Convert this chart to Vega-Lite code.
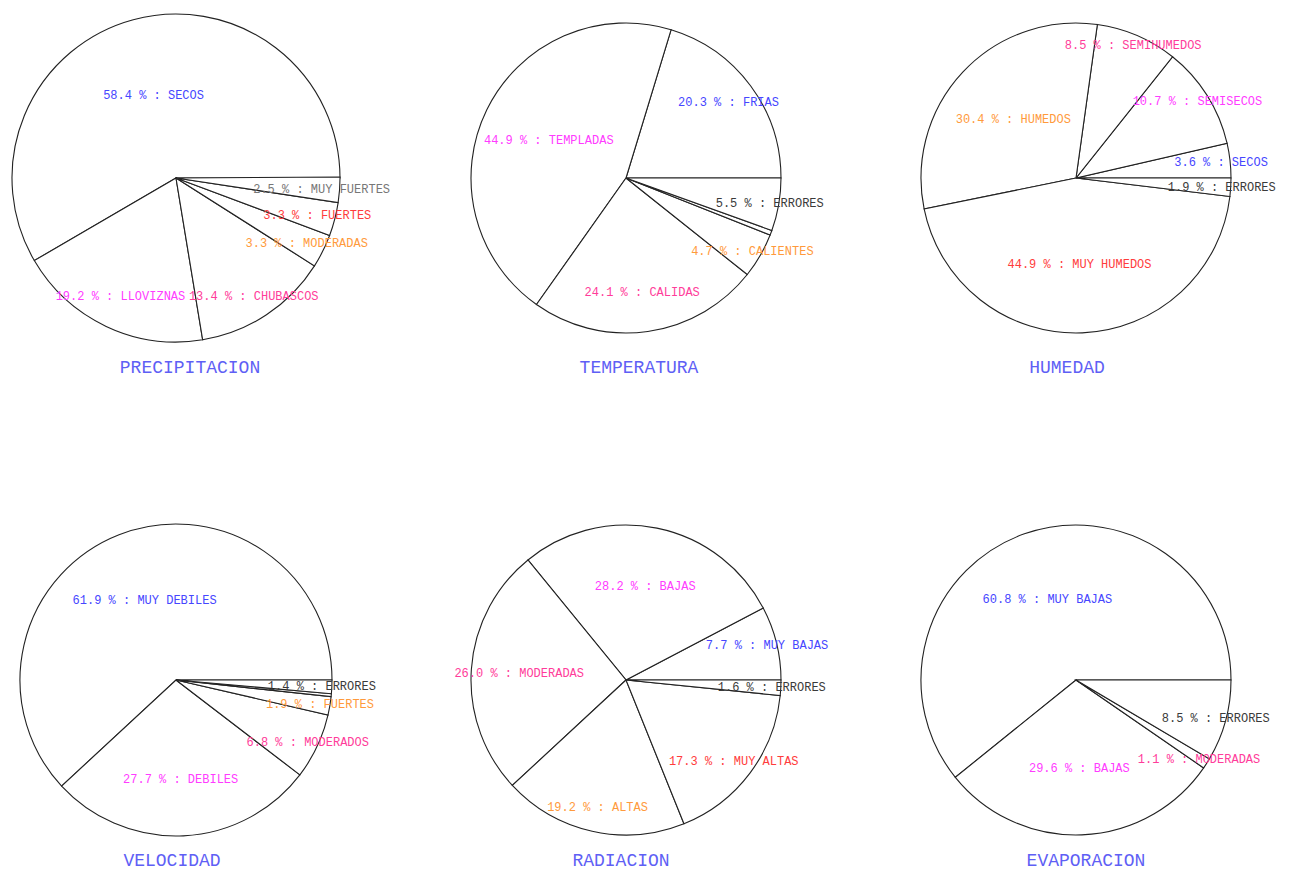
{
  "$schema": "https://vega.github.io/schema/vega-lite/v6.json",
  "background": "white",
  "padding": {"left": 9, "top": 8, "right": 0, "bottom": 0},
  "autosize": {"type": "pad"},
  "config": {
    "view": {"stroke": null},
    "title": {"orient": "bottom", "frame": "group", "anchor": "middle", "font": "Liberation Mono", "fontSize": 18, "fontWeight": "normal", "color": "#5f5ff5"}
  },
  "datasets": {
    "pies": [
      {"variable": "PRECIPITACION", "orden": 1, "categoria": "SECOS", "pct": 58.4, "grupo": "1", "etiqueta": "58.4 % : SECOS"},
      {"variable": "PRECIPITACION", "orden": 2, "categoria": "LLOVIZNAS", "pct": 19.2, "grupo": "2", "etiqueta": "19.2 % : LLOVIZNAS"},
      {"variable": "PRECIPITACION", "orden": 3, "categoria": "CHUBASCOS", "pct": 13.4, "grupo": "3", "etiqueta": "13.4 % : CHUBASCOS"},
      {"variable": "PRECIPITACION", "orden": 4, "categoria": "MODERADAS", "pct": 3.3, "grupo": "4", "etiqueta": "3.3 % : MODERADAS"},
      {"variable": "PRECIPITACION", "orden": 5, "categoria": "FUERTES", "pct": 3.3, "grupo": "5", "etiqueta": "3.3 % : FUERTES"},
      {"variable": "PRECIPITACION", "orden": 6, "categoria": "MUY FUERTES", "pct": 2.5, "grupo": "6", "etiqueta": "2.5 % : MUY FUERTES"},
      {"variable": "TEMPERATURA", "orden": 1, "categoria": "FRIAS", "pct": 20.3, "grupo": "1", "etiqueta": "20.3 % : FRIAS"},
      {"variable": "TEMPERATURA", "orden": 2, "categoria": "TEMPLADAS", "pct": 44.9, "grupo": "2", "etiqueta": "44.9 % : TEMPLADAS"},
      {"variable": "TEMPERATURA", "orden": 3, "categoria": "CALIDAS", "pct": 24.1, "grupo": "3", "etiqueta": "24.1 % : CALIDAS"},
      {"variable": "TEMPERATURA", "orden": 4, "categoria": "CALIENTES", "pct": 4.7, "grupo": "4", "etiqueta": "4.7 % : CALIENTES"},
      {"variable": "TEMPERATURA", "orden": 5, "categoria": "", "pct": 0.5, "grupo": "E", "etiqueta": ""},
      {"variable": "TEMPERATURA", "orden": 6, "categoria": "ERRORES", "pct": 5.5, "grupo": "E", "etiqueta": "5.5 % : ERRORES"},
      {"variable": "HUMEDAD", "orden": 1, "categoria": "SECOS", "pct": 3.6, "grupo": "1", "etiqueta": "3.6 % : SECOS"},
      {"variable": "HUMEDAD", "orden": 2, "categoria": "SEMISECOS", "pct": 10.7, "grupo": "2", "etiqueta": "10.7 % : SEMISECOS"},
      {"variable": "HUMEDAD", "orden": 3, "categoria": "SEMIHUMEDOS", "pct": 8.5, "grupo": "3", "etiqueta": "8.5 % : SEMIHUMEDOS"},
      {"variable": "HUMEDAD", "orden": 4, "categoria": "HUMEDOS", "pct": 30.4, "grupo": "4", "etiqueta": "30.4 % : HUMEDOS"},
      {"variable": "HUMEDAD", "orden": 5, "categoria": "MUY HUMEDOS", "pct": 44.9, "grupo": "5", "etiqueta": "44.9 % : MUY HUMEDOS"},
      {"variable": "HUMEDAD", "orden": 6, "categoria": "ERRORES", "pct": 1.9, "grupo": "E", "etiqueta": "1.9 % : ERRORES"},
      {"variable": "VELOCIDAD", "orden": 1, "categoria": "MUY DEBILES", "pct": 61.9, "grupo": "1", "etiqueta": "61.9 % : MUY DEBILES"},
      {"variable": "VELOCIDAD", "orden": 2, "categoria": "DEBILES", "pct": 27.7, "grupo": "2", "etiqueta": "27.7 % : DEBILES"},
      {"variable": "VELOCIDAD", "orden": 3, "categoria": "MODERADOS", "pct": 6.8, "grupo": "3", "etiqueta": "6.8 % : MODERADOS"},
      {"variable": "VELOCIDAD", "orden": 4, "categoria": "FUERTES", "pct": 1.9, "grupo": "4", "etiqueta": "1.9 % : FUERTES"},
      {"variable": "VELOCIDAD", "orden": 5, "categoria": "", "pct": 0.3, "grupo": "E", "etiqueta": ""},
      {"variable": "VELOCIDAD", "orden": 6, "categoria": "ERRORES", "pct": 1.4, "grupo": "E", "etiqueta": "1.4 % : ERRORES"},
      {"variable": "RADIACION", "orden": 1, "categoria": "MUY BAJAS", "pct": 7.7, "grupo": "1", "etiqueta": "7.7 % : MUY BAJAS"},
      {"variable": "RADIACION", "orden": 2, "categoria": "BAJAS", "pct": 28.2, "grupo": "2", "etiqueta": "28.2 % : BAJAS"},
      {"variable": "RADIACION", "orden": 3, "categoria": "MODERADAS", "pct": 26.0, "grupo": "3", "etiqueta": "26.0 % : MODERADAS"},
      {"variable": "RADIACION", "orden": 4, "categoria": "ALTAS", "pct": 19.2, "grupo": "4", "etiqueta": "19.2 % : ALTAS"},
      {"variable": "RADIACION", "orden": 5, "categoria": "MUY ALTAS", "pct": 17.3, "grupo": "5", "etiqueta": "17.3 % : MUY ALTAS"},
      {"variable": "RADIACION", "orden": 6, "categoria": "ERRORES", "pct": 1.6, "grupo": "E", "etiqueta": "1.6 % : ERRORES"},
      {"variable": "EVAPORACION", "orden": 1, "categoria": "MUY BAJAS", "pct": 60.8, "grupo": "1", "etiqueta": "60.8 % : MUY BAJAS"},
      {"variable": "EVAPORACION", "orden": 2, "categoria": "BAJAS", "pct": 29.6, "grupo": "2", "etiqueta": "29.6 % : BAJAS"},
      {"variable": "EVAPORACION", "orden": 3, "categoria": "MODERADAS", "pct": 1.1, "grupo": "3", "etiqueta": "1.1 % : MODERADAS"},
      {"variable": "EVAPORACION", "orden": 4, "categoria": "ERRORES", "pct": 8.5, "grupo": "E", "etiqueta": "8.5 % : ERRORES"}
    ]
  },
  "columns": 3,
  "spacing": {"row": 162, "column": 120},
  "bounds": "flush",
  "concat": [
    {
      "width": 330, "height": 340,
      "title": {"text": "PRECIPITACION", "offset": 11, "dx": 14},
      "data": {"name": "pies"},
      "transform": [{"filter": "datum.variable === 'PRECIPITACION'"}],
      "encoding": {
        "theta": {"field": "pct", "type": "quantitative", "stack": true, "scale": {"domain": [0, 100], "range": [1.5707963268, -4.7123889804]}},
        "order": {"field": "orden", "type": "quantitative"},
        "detail": {"field": "categoria", "type": "nominal"}
      },
      "layer": [
        {"mark": {"type": "arc", "outerRadius": 164, "fill": "white", "stroke": "#222222", "strokeWidth": 1.1}},
        {"mark": {"type": "text", "font": "Liberation Mono", "fontSize": 12},
         "encoding": {
           "text": {"field": "etiqueta", "type": "nominal"},
           "radius": {"field": "pct", "type": "quantitative", "scale": {"type": "pow", "exponent": 3, "domain": [5, 30], "range": [146, 86], "clamp": true, "zero": false}},
           "color": {"field": "grupo", "type": "nominal", "legend": null, "scale": {"domain": ["1", "2", "3", "4", "5", "6", "E"], "range": ["#4646ff", "#ff3cff", "#ff3c9a", "#ff9a3c", "#ff3c3c", "#777777", "#3a3a3a"]}}
         }}
      ]
    },
    {
      "width": 330, "height": 340,
      "title": {"text": "TEMPERATURA", "offset": 11, "dx": 13},
      "data": {"name": "pies"},
      "transform": [{"filter": "datum.variable === 'TEMPERATURA'"}],
      "encoding": {
        "theta": {"field": "pct", "type": "quantitative", "stack": true, "scale": {"domain": [0, 100], "range": [1.5707963268, -4.7123889804]}},
        "order": {"field": "orden", "type": "quantitative"},
        "detail": {"field": "categoria", "type": "nominal"}
      },
      "layer": [
        {"mark": {"type": "arc", "outerRadius": 155, "fill": "white", "stroke": "#222222", "strokeWidth": 1.1}},
        {"mark": {"type": "text", "font": "Liberation Mono", "fontSize": 12},
         "encoding": {
           "text": {"field": "etiqueta", "type": "nominal"},
           "radius": {"field": "pct", "type": "quantitative", "scale": {"type": "pow", "exponent": 3, "domain": [5, 30], "range": [146, 86], "clamp": true, "zero": false}},
           "color": {"field": "grupo", "type": "nominal", "legend": null, "scale": {"domain": ["1", "2", "3", "4", "5", "6", "E"], "range": ["#4646ff", "#ff3cff", "#ff3c9a", "#ff9a3c", "#ff3c3c", "#777777", "#3a3a3a"]}}
         }}
      ]
    },
    {
      "width": 330, "height": 340,
      "title": {"text": "HUMEDAD", "offset": 11, "dx": -9},
      "data": {"name": "pies"},
      "transform": [{"filter": "datum.variable === 'HUMEDAD'"}],
      "encoding": {
        "theta": {"field": "pct", "type": "quantitative", "stack": true, "scale": {"domain": [0, 100], "range": [1.5707963268, -4.7123889804]}},
        "order": {"field": "orden", "type": "quantitative"},
        "detail": {"field": "categoria", "type": "nominal"}
      },
      "layer": [
        {"mark": {"type": "arc", "outerRadius": 155, "fill": "white", "stroke": "#222222", "strokeWidth": 1.1}},
        {"mark": {"type": "text", "font": "Liberation Mono", "fontSize": 12},
         "encoding": {
           "text": {"field": "etiqueta", "type": "nominal"},
           "radius": {"field": "pct", "type": "quantitative", "scale": {"type": "pow", "exponent": 3, "domain": [5, 30], "range": [146, 86], "clamp": true, "zero": false}},
           "color": {"field": "grupo", "type": "nominal", "legend": null, "scale": {"domain": ["1", "2", "3", "4", "5", "6", "E"], "range": ["#4646ff", "#ff3cff", "#ff3c9a", "#ff9a3c", "#ff3c3c", "#777777", "#3a3a3a"]}}
         }}
      ]
    },
    {
      "width": 330, "height": 340,
      "title": {"text": "VELOCIDAD", "offset": 2, "dx": -4},
      "data": {"name": "pies"},
      "transform": [{"filter": "datum.variable === 'VELOCIDAD'"}],
      "encoding": {
        "theta": {"field": "pct", "type": "quantitative", "stack": true, "scale": {"domain": [0, 100], "range": [1.5707963268, -4.7123889804]}},
        "order": {"field": "orden", "type": "quantitative"},
        "detail": {"field": "categoria", "type": "nominal"}
      },
      "layer": [
        {"mark": {"type": "arc", "outerRadius": 156, "fill": "white", "stroke": "#222222", "strokeWidth": 1.1}},
        {"mark": {"type": "text", "font": "Liberation Mono", "fontSize": 12},
         "encoding": {
           "text": {"field": "etiqueta", "type": "nominal"},
           "radius": {"field": "pct", "type": "quantitative", "scale": {"type": "pow", "exponent": 3, "domain": [5, 30], "range": [146, 86], "clamp": true, "zero": false}},
           "color": {"field": "grupo", "type": "nominal", "legend": null, "scale": {"domain": ["1", "2", "3", "4", "5", "6", "E"], "range": ["#4646ff", "#ff3cff", "#ff3c9a", "#ff9a3c", "#ff3c3c", "#777777", "#3a3a3a"]}}
         }}
      ]
    },
    {
      "width": 330, "height": 340,
      "title": {"text": "RADIACION", "offset": 2, "dx": -5},
      "data": {"name": "pies"},
      "transform": [{"filter": "datum.variable === 'RADIACION'"}],
      "encoding": {
        "theta": {"field": "pct", "type": "quantitative", "stack": true, "scale": {"domain": [0, 100], "range": [1.5707963268, -4.7123889804]}},
        "order": {"field": "orden", "type": "quantitative"},
        "detail": {"field": "categoria", "type": "nominal"}
      },
      "layer": [
        {"mark": {"type": "arc", "outerRadius": 155, "fill": "white", "stroke": "#222222", "strokeWidth": 1.1}},
        {"mark": {"type": "text", "font": "Liberation Mono", "fontSize": 12},
         "encoding": {
           "text": {"field": "etiqueta", "type": "nominal"},
           "radius": {"field": "pct", "type": "quantitative", "scale": {"type": "pow", "exponent": 3, "domain": [5, 30], "range": [146, 86], "clamp": true, "zero": false}},
           "color": {"field": "grupo", "type": "nominal", "legend": null, "scale": {"domain": ["1", "2", "3", "4", "5", "6", "E"], "range": ["#4646ff", "#ff3cff", "#ff3c9a", "#ff9a3c", "#ff3c3c", "#777777", "#3a3a3a"]}}
         }}
      ]
    },
    {
      "width": 330, "height": 340,
      "title": {"text": "EVAPORACION", "offset": 2, "dx": 10},
      "data": {"name": "pies"},
      "transform": [{"filter": "datum.variable === 'EVAPORACION'"}],
      "encoding": {
        "theta": {"field": "pct", "type": "quantitative", "stack": true, "scale": {"domain": [0, 100], "range": [1.5707963268, -4.7123889804]}},
        "order": {"field": "orden", "type": "quantitative"},
        "detail": {"field": "categoria", "type": "nominal"}
      },
      "layer": [
        {"mark": {"type": "arc", "outerRadius": 155, "fill": "white", "stroke": "#222222", "strokeWidth": 1.1}},
        {"mark": {"type": "text", "font": "Liberation Mono", "fontSize": 12},
         "encoding": {
           "text": {"field": "etiqueta", "type": "nominal"},
           "radius": {"field": "pct", "type": "quantitative", "scale": {"type": "pow", "exponent": 3, "domain": [5, 30], "range": [146, 86], "clamp": true, "zero": false}},
           "color": {"field": "grupo", "type": "nominal", "legend": null, "scale": {"domain": ["1", "2", "3", "4", "5", "6", "E"], "range": ["#4646ff", "#ff3cff", "#ff3c9a", "#ff9a3c", "#ff3c3c", "#777777", "#3a3a3a"]}}
         }}
      ]
    }
  ]
}
